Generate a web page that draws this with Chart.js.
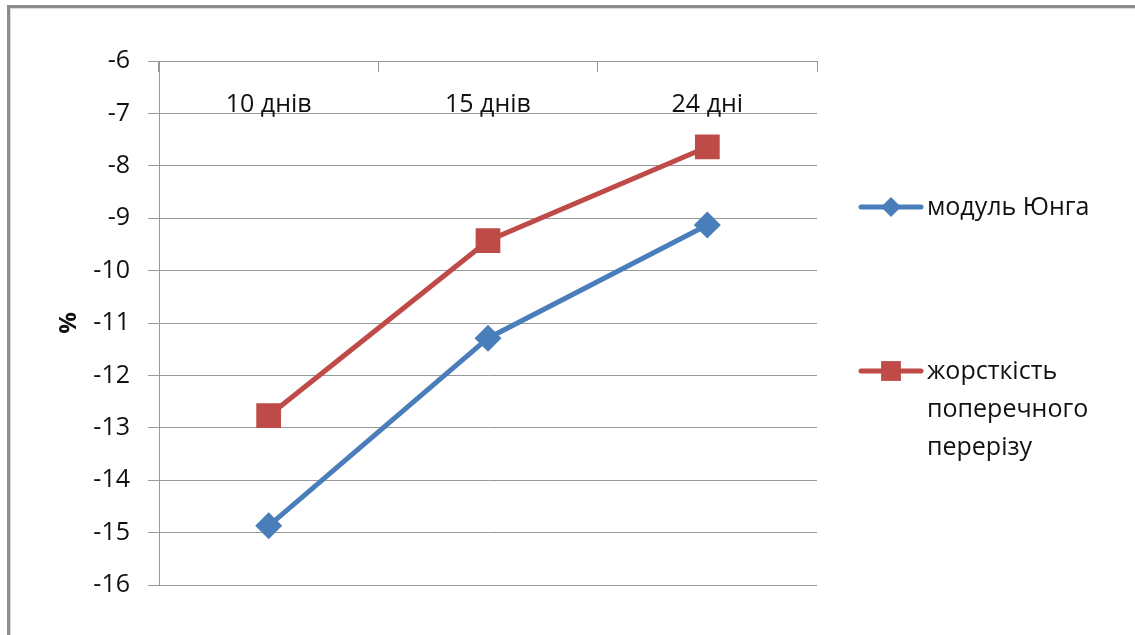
<!DOCTYPE html>
<html lang="uk">
<head>
<meta charset="utf-8">
<title>Модуль Юнга та жорсткість</title>
<script src="https://cdn.jsdelivr.net/npm/chart.js@4/dist/chart.umd.min.js"></script>
<style>
    html, body { margin: 0; padding: 0; background: #fff; overflow: hidden; }
    #frame {
        position: absolute; left: 7px; top: 5px;
        width: 1200px; height: 700px;
        border: 3px solid #8c8c8c;
        box-shadow: inset 1px 1px 0 #d9d9d9;
    }
    #chart { position: absolute; left: 0; top: 0; }
</style>
</head>
<body>
<div id="frame"></div>
<canvas id="chart" width="1135" height="635"></canvas>
<script>
const categories = ['10 днів', '15 днів', '24 дні'];
const youngModulus = [-14.87, -11.29, -9.13];
const stiffness = [-12.77, -9.43, -7.64];
const seriesNames = ['модуль Юнга', 'жорсткість поперечного перерізу'];
const yMin = -16, yMax = -6, yStep = 1;

const FONT = '"Open Sans", "Noto Sans", sans-serif';
const gridColor = '#989898';

// legend drawn at the right, lines wrapped like a narrow text box
const sideLegend = {
    id: 'sideLegend',
    afterDraw(chart) {
        const ctx = chart.ctx;
        const rows = [207, 371];
        ctx.save();
        ctx.font = '25px ' + FONT;
        ctx.textBaseline = 'middle';
        chart.data.datasets.forEach((ds, i) => {
            const y = rows[i];
            ctx.strokeStyle = ds.borderColor;
            ctx.lineWidth = 5;
            ctx.lineCap = 'round';
            ctx.beginPath();
            ctx.moveTo(861, y);
            ctx.lineTo(921, y);
            ctx.stroke();
            ctx.fillStyle = ds.backgroundColor;
            Chart.helpers.drawPoint(ctx, {
                pointStyle: ds.pointStyle,
                radius: i === 0 ? 10 : 14,
                borderWidth: 0,
                rotation: 0
            }, 891, y);

            // wrap label into lines no wider than the legend box
            const words = ds.label.split(' ');
            const lines = [];
            let cur = '';
            words.forEach(w => {
                const test = cur ? cur + ' ' + w : w;
                if (cur && ctx.measureText(test).width > 195) {
                    lines.push(cur);
                    cur = w;
                } else {
                    cur = test;
                }
            });
            lines.push(cur);
            ctx.fillStyle = '#111';
            lines.forEach((ln, k) => ctx.fillText(ln, 927, y + 1 + k * 38));
        });
        ctx.restore();
    }
};

new Chart(document.getElementById('chart'), {
    type: 'line',
    data: {
        labels: categories,
        datasets: [
            {
                label: seriesNames[0],
                data: youngModulus,
                borderColor: '#4a7ebb',
                backgroundColor: '#4a7ebb',
                borderWidth: 5,
                pointStyle: 'rectRot',
                pointRadius: 13.5,
                pointBorderWidth: 0,
                tension: 0
            },
            {
                label: seriesNames[1],
                data: stiffness,
                borderColor: '#be4b48',
                backgroundColor: '#be4b48',
                borderWidth: 5,
                pointStyle: 'rect',
                pointRadius: 17.5,
                pointBorderWidth: 0,
                tension: 0
            }
        ]
    },
    options: {
        responsive: false,
        animation: false,
        layout: { padding: { left: 0, top: 61, right: 318, bottom: 50 } },
        plugins: {
            legend: { display: false },
            tooltip: { enabled: false }
        },
        scales: {
            x: {
                type: 'category',
                position: { y: yMax },
                offset: true,
                grid: {
                    offset: true,
                    drawOnChartArea: false,
                    drawTicks: true,
                    tickLength: 10,
                    color: gridColor
                },
                border: { display: true, color: gridColor },
                ticks: {
                    padding: 19,
                    color: '#111',
                    font: { family: FONT, size: 25 }
                }
            },
            y: {
                min: yMin,
                max: yMax,
                ticks: {
                    stepSize: yStep,
                    padding: 18,
                    color: '#111',
                    font: { family: FONT, size: 25 }
                },
                grid: { color: gridColor, tickLength: 11 },
                border: { display: true, color: gridColor },
                title: {
                    display: true,
                    text: '%',
                    color: '#111',
                    font: { family: FONT, size: 24, weight: 'bold' },
                    padding: { top: 55, bottom: 0 }
                },
                afterFit(scale) { scale.width = 159; }
            }
        }
    },
    plugins: [sideLegend]
});
</script>
</body>
</html>
